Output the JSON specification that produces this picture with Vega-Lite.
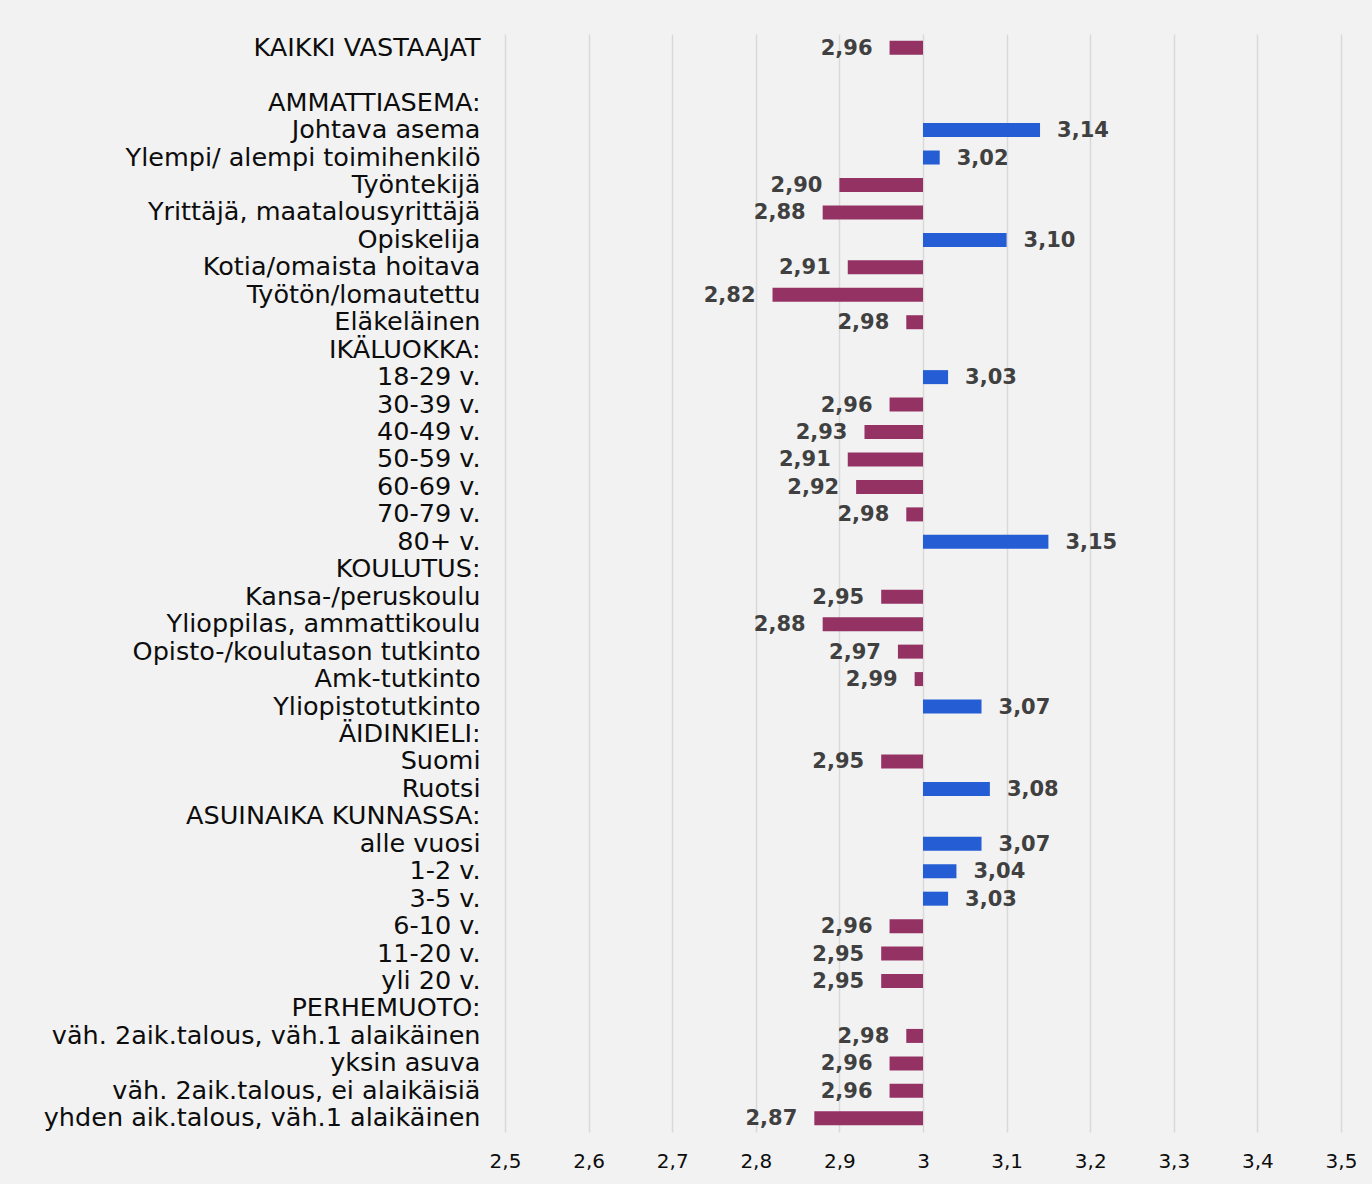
{
  "$schema": "https://vega.github.io/schema/vega-lite/v6.json",
  "autosize": "none",
  "width": 836,
  "height": 1098,
  "padding": {"left": 505, "top": 34, "right": 31, "bottom": 52},
  "background": "#f2f2f2",
  "config": {
    "view": {"stroke": null},
    "locale": {"number": {"decimal": ",", "thousands": " ", "grouping": [3], "currency": ["", " €"]}},
    "font": "DejaVu Sans"
  },
  "data": {
    "values": [
      {"category": "KAIKKI VASTAAJAT", "value": 2.96},
      {"category": "Johtava asema", "value": 3.14},
      {"category": "Ylempi/ alempi toimihenkilö", "value": 3.02},
      {"category": "Työntekijä", "value": 2.90},
      {"category": "Yrittäjä, maatalousyrittäjä", "value": 2.88},
      {"category": "Opiskelija", "value": 3.10},
      {"category": "Kotia/omaista hoitava", "value": 2.91},
      {"category": "Työtön/lomautettu", "value": 2.82},
      {"category": "Eläkeläinen", "value": 2.98},
      {"category": "18-29 v.", "value": 3.03},
      {"category": "30-39 v.", "value": 2.96},
      {"category": "40-49 v.", "value": 2.93},
      {"category": "50-59 v.", "value": 2.91},
      {"category": "60-69 v.", "value": 2.92},
      {"category": "70-79 v.", "value": 2.98},
      {"category": "80+ v.", "value": 3.15},
      {"category": "Kansa-/peruskoulu", "value": 2.95},
      {"category": "Ylioppilas, ammattikoulu", "value": 2.88},
      {"category": "Opisto-/koulutason tutkinto", "value": 2.97},
      {"category": "Amk-tutkinto", "value": 2.99},
      {"category": "Yliopistotutkinto", "value": 3.07},
      {"category": "Suomi", "value": 2.95},
      {"category": "Ruotsi", "value": 3.08},
      {"category": "alle vuosi", "value": 3.07},
      {"category": "1-2 v.\u00a0", "value": 3.04},
      {"category": "3-5 v.", "value": 3.03},
      {"category": "6-10 v.", "value": 2.96},
      {"category": "11-20 v.", "value": 2.95},
      {"category": "yli 20 v.", "value": 2.95},
      {"category": "väh. 2aik.talous, väh.1 alaikäinen", "value": 2.98},
      {"category": "yksin asuva", "value": 2.96},
      {"category": "väh. 2aik.talous, ei alaikäisiä", "value": 2.96},
      {"category": "yhden aik.talous, väh.1 alaikäinen", "value": 2.87}
    ]
  },
  "encoding": {
    "y": {
      "field": "category",
      "type": "nominal",
      "scale": {
        "domain": ["KAIKKI VASTAAJAT", " ", "AMMATTIASEMA:", "Johtava asema", "Ylempi/ alempi toimihenkilö", "Työntekijä", "Yrittäjä, maatalousyrittäjä", "Opiskelija", "Kotia/omaista hoitava", "Työtön/lomautettu", "Eläkeläinen", "IKÄLUOKKA:", "18-29 v.", "30-39 v.", "40-49 v.", "50-59 v.", "60-69 v.", "70-79 v.", "80+ v.", "KOULUTUS:", "Kansa-/peruskoulu", "Ylioppilas, ammattikoulu", "Opisto-/koulutason tutkinto", "Amk-tutkinto", "Yliopistotutkinto", "ÄIDINKIELI:", "Suomi", "Ruotsi", "ASUINAIKA KUNNASSA:", "alle vuosi", "1-2 v.\u00a0", "3-5 v.", "6-10 v.", "11-20 v.", "yli 20 v.", "PERHEMUOTO:", "väh. 2aik.talous, väh.1 alaikäinen", "yksin asuva", "väh. 2aik.talous, ei alaikäisiä", "yhden aik.talous, väh.1 alaikäinen"],
        "paddingInner": 0,
        "paddingOuter": 0
      },
      "axis": {
        "title": null,
        "domain": false,
        "ticks": false,
        "tickSize": 0,
        "grid": false,
        "labelPadding": 25,
        "labelFontSize": 25.5,
        "labelColor": "#0d0d0d",
        "labelFont": "DejaVu Sans",
        "labelAlign": "right",
        "labelLimit": 600
      }
    }
  },
  "layer": [
    {
      "mark": {"type": "bar", "size": 14},
      "encoding": {
        "x": {
          "field": "value",
          "type": "quantitative",
          "scale": {"domain": [2.5, 3.5], "nice": false, "zero": false},
          "axis": {
            "title": null,
            "values": [2.5, 2.6, 2.7, 2.8, 2.9, 3.0, 3.1, 3.2, 3.3, 3.4, 3.5],
            "format": ".1~f",
            "domain": false,
            "ticks": false,
            "tickSize": 0,
            "grid": true,
            "gridColor": "#d9d9d9",
            "gridWidth": 1.5,
            "labelPadding": 19,
            "labelFontSize": 20,
            "labelColor": "#0d0d0d",
            "labelFont": "DejaVu Sans",
            "labelFlush": false
          }
        },
        "x2": {"datum": 3},
        "color": {
          "condition": {"test": "datum.value > 3", "value": "#255ed4"},
          "value": "#943264"
        }
      }
    },
    {
      "transform": [{"filter": "datum.value < 3"}],
      "mark": {"type": "text", "align": "right", "baseline": "middle", "dx": -17, "dy": 1, "fontSize": 21, "fontWeight": "bold", "color": "#404040", "font": "DejaVu Sans"},
      "encoding": {
        "x": {"field": "value", "type": "quantitative"},
        "text": {"field": "value", "type": "quantitative", "format": ".2f"}
      }
    },
    {
      "transform": [{"filter": "datum.value > 3"}],
      "mark": {"type": "text", "align": "left", "baseline": "middle", "dx": 17, "dy": 1, "fontSize": 21, "fontWeight": "bold", "color": "#404040", "font": "DejaVu Sans"},
      "encoding": {
        "x": {"field": "value", "type": "quantitative"},
        "text": {"field": "value", "type": "quantitative", "format": ".2f"}
      }
    }
  ]
}
